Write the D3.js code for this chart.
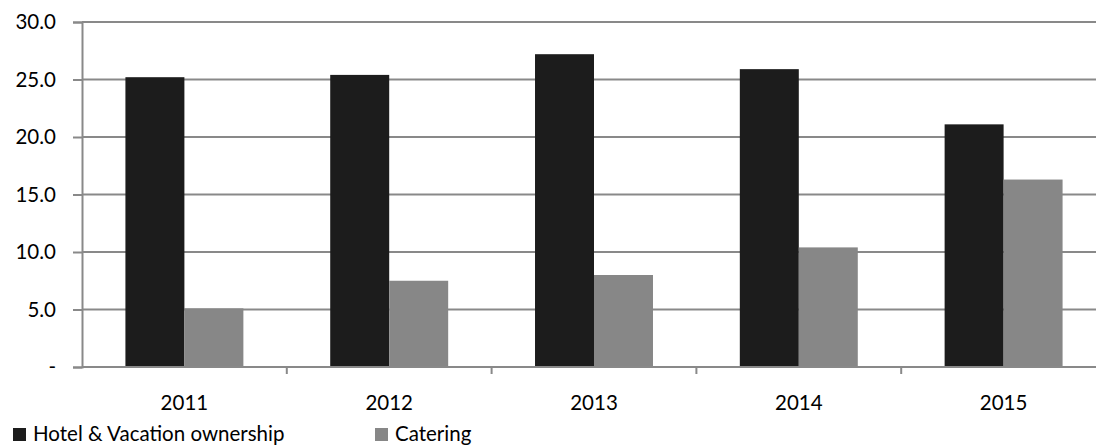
<!DOCTYPE html>
<html lang="en">
<head>
  <meta charset="utf-8">
  <script src="https://d3js.org/d3.v7.min.js"></script>
  <style>
    body { margin: 0; background: #fff; }
    text { font-family: Lato, "Open Sans", sans-serif; fill: #000; }
  </style>
</head>
<body>
  <div id="chart"></div>
  <script>
  const width = 1096
  const height = 445
  const fontSize = "20.5px"

  // data
  const years = ["2011", "2012", "2013", "2014", "2015"]
  const seriesNames = ["Hotel & Vacation ownership", "Catering"]
  const hotel = [25.2, 25.4, 27.2, 25.9, 21.1]
  const catering = [5.1, 7.5, 8.0, 10.4, 16.3]
  const yTicks = [0, 5, 10, 15, 20, 25, 30]
  const colors = ["#1c1c1c", "#878787"]

  const margin = {left: 82, top: 22, bottom: 78}
  const plotRight = 1106   // plot runs a little past the window edge

  const svg = d3.select("#chart").append("svg")
      .attr("width", width)
      .attr("height", height)

  const x0 = d3.scaleBand()
      .domain(years)
      .range([margin.left, plotRight])
      .paddingInner(0.424)
      .paddingOuter(0.212)

  const x1 = d3.scaleBand()
      .domain(seriesNames)
      .range([0, x0.bandwidth()])

  const y = d3.scaleLinear()
      .domain([0, 30])
      .range([height - margin.bottom, margin.top])

  // gridlines
  svg.append("g")
    .selectAll("line")
    .data(yTicks.filter(d => d > 0))
    .join("line")
      .attr("x1", margin.left)
      .attr("x2", plotRight)
      .attr("y1", d => y(d))
      .attr("y2", d => y(d))
      .attr("stroke", "#898989")
      .attr("stroke-width", 2)

  // bars
  const rows = years.map((yr, i) => ({year: yr, values: [hotel[i], catering[i]]}))

  svg.append("g")
    .selectAll("g")
    .data(rows)
    .join("g")
      .attr("transform", d => `translate(${x0(d.year)},0)`)
    .selectAll("rect")
    .data(d => d.values.map((v, j) => ({name: seriesNames[j], value: v, j: j})))
    .join("rect")
      .attr("x", d => x1(d.name))
      .attr("width", x1.bandwidth())
      .attr("y", d => y(d.value))
      .attr("height", d => y(0) - y(d.value))
      .attr("fill", d => colors[d.j])

  // y axis
  const yAxis = d3.axisLeft(y)
      .tickValues(yTicks)
      .tickSize(9)
      .tickPadding(17)
      .tickFormat(d => d === 0 ? "-" : d3.format(".1f")(d))

  const gy = svg.append("g")
      .attr("transform", `translate(${margin.left},0)`)
      .call(yAxis)
  gy.select(".domain").attr("stroke", "#898989").attr("stroke-width", 2)
  gy.selectAll(".tick line").attr("stroke", "#898989").attr("stroke-width", 2)
  gy.selectAll(".tick text").style("font-size", fontSize).attr("font-family", null)
  gy.attr("font-family", null).attr("font-size", null)

  // x axis: line plus ticks at category boundaries
  const gx = svg.append("g")
  gx.append("line")
      .attr("x1", margin.left)
      .attr("x2", plotRight)
      .attr("y1", y(0))
      .attr("y2", y(0))
      .attr("stroke", "#898989")
      .attr("stroke-width", 2)

  const step = x0.step()
  gx.selectAll(".bound")
    .data(years.slice(1))
    .join("line")
      .attr("class", "bound")
      .attr("x1", d => x0(d) - x0.paddingOuter() * step)
      .attr("x2", d => x0(d) - x0.paddingOuter() * step)
      .attr("y1", y(0))
      .attr("y2", y(0) + 7)
      .attr("stroke", "#898989")
      .attr("stroke-width", 2)

  gx.selectAll(".lab")
    .data(years)
    .join("text")
      .attr("class", "lab")
      .attr("x", d => x0(d) + x0.bandwidth() / 2)
      .attr("y", 410)
      .attr("text-anchor", "middle")
      .style("font-size", fontSize)
      .text(d => d)

  // legend
  const legendX = [13, 375]
  const legend = svg.append("g")
    .selectAll("g")
    .data(seriesNames)
    .join("g")
      .attr("transform", (d, i) => `translate(${legendX[i]},428)`)
  legend.append("rect")
      .attr("width", 13)
      .attr("height", 13)
      .attr("fill", (d, i) => colors[i])
  legend.append("text")
      .attr("x", 20)
      .attr("y", 13)
      .style("font-size", fontSize)
      .text(d => d)
  </script>
</body>
</html>
